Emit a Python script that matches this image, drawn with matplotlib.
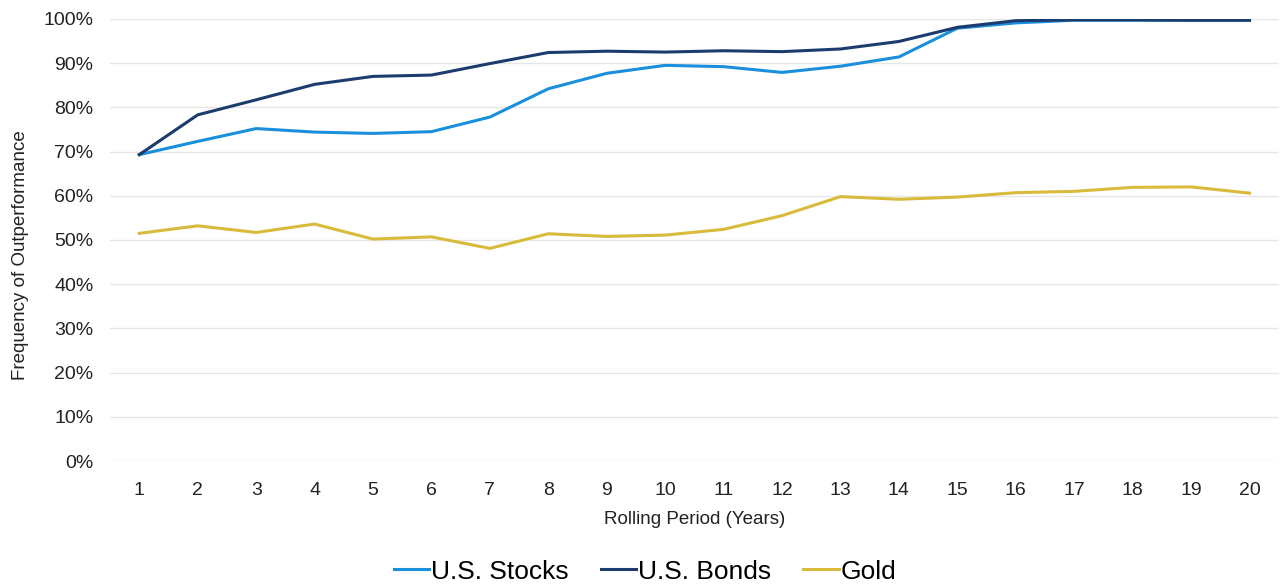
import numpy as np
import matplotlib.pyplot as plt
from matplotlib.ticker import PercentFormatter

plt.rcParams['font.family'] = ['Liberation Sans', 'DejaVu Sans']

############################################################ DATA
periods = list(range(1, 21))
us_stocks = [69.3, 72.3, 75.2, 74.4, 74.1, 74.5, 77.8, 84.2, 87.7, 89.5,
             89.2, 87.9, 89.3, 91.4, 97.9, 99.1, 99.7, 99.7, 99.7, 99.7]
us_bonds = [69.3, 78.3, 81.7, 85.2, 87.0, 87.3, 89.9, 92.4, 92.7, 92.5,
            92.8, 92.6, 93.2, 94.9, 98.1, 99.6, 99.8, 99.8, 99.7, 99.7]
gold = [51.5, 53.2, 51.7, 53.6, 50.2, 50.7, 48.1, 51.4, 50.8, 51.1,
        52.4, 55.5, 59.8, 59.2, 59.7, 60.7, 61.0, 61.9, 62.0, 60.6]
yticks = list(range(0, 101, 10))

############################################################ PLOT
fig = plt.figure(figsize=(12.8, 5.84), dpi=100)
ax = fig.add_axes([0.086, 0.2106, 0.913, 0.757])

ax.plot(periods, us_stocks, color='#1a8fdc', lw=2.2, label='U.S. Stocks')
ax.plot(periods, us_bonds, color='#1d3c6e', lw=2.2, label='U.S. Bonds')
ax.plot(periods, gold, color='#d9bb3c', lw=2.2, label='Gold')

ax.set_xlim(0.5, 20.5)
ax.set_ylim(0, 100)
ax.set_xticks(periods)
ax.set_yticks(yticks)
ax.yaxis.set_major_formatter(PercentFormatter(decimals=0))
ax.grid(axis='y', color='#e6e6e6', lw=1)
ax.set_axisbelow(True)
for s in ax.spines.values():
    s.set_visible(False)
ax.tick_params(length=0, labelsize=14, colors='#222222')
ax.tick_params(axis='x', pad=15)
ax.tick_params(axis='y', pad=12)

ax.set_xlabel('Rolling Period (Years)', fontsize=13.5, color='#222222', labelpad=9)
ax.set_ylabel('Frequency of Outperformance', fontsize=13.5, color='#222222')
ax.yaxis.set_label_coords(-0.069, 0.466)

fig.legend(loc='lower center', bbox_to_anchor=(0.504, -0.04), ncol=3, frameon=False,
           fontsize=19, handlelength=1.35, handletextpad=0.08, columnspacing=1.2)

fig.savefig('out.png', dpi=100)
